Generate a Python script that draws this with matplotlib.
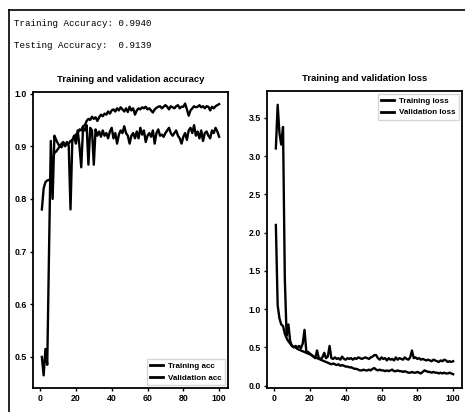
import matplotlib
matplotlib.use("Agg")
import matplotlib.pyplot as plt
from matplotlib.lines import Line2D

epochs = list(range(1, 101))

train_acc = [0.780, 0.820, 0.832, 0.835, 0.836, 0.838, 0.870, 0.888, 0.890, 0.895,
             0.900, 0.898, 0.905, 0.902, 0.908, 0.905, 0.910, 0.912, 0.918, 0.922,
             0.925, 0.932, 0.930, 0.938, 0.940, 0.948, 0.952, 0.950, 0.956, 0.952,
             0.955, 0.948, 0.955, 0.960, 0.957, 0.962, 0.960, 0.966, 0.962, 0.968,
             0.970, 0.966, 0.972, 0.968, 0.974, 0.970, 0.966, 0.972, 0.965, 0.975,
             0.968, 0.972, 0.960, 0.968, 0.972, 0.970, 0.974, 0.972, 0.975, 0.970,
             0.972, 0.968, 0.964, 0.970, 0.973, 0.975, 0.976, 0.972, 0.975, 0.978,
             0.975, 0.970, 0.976, 0.974, 0.972, 0.976, 0.978, 0.972, 0.975, 0.975,
             0.981, 0.970, 0.958, 0.968, 0.972, 0.976, 0.974, 0.975, 0.978, 0.974,
             0.976, 0.972, 0.976, 0.975, 0.968, 0.975, 0.972, 0.976, 0.978, 0.980]

val_acc = [0.500, 0.465, 0.515, 0.485, 0.700, 0.910, 0.800, 0.920, 0.912, 0.905,
           0.900, 0.905, 0.908, 0.900, 0.905, 0.902, 0.780, 0.910, 0.920, 0.905,
           0.930, 0.900, 0.860, 0.935, 0.930, 0.940, 0.865, 0.935, 0.930, 0.865,
           0.932, 0.920, 0.928, 0.918, 0.930, 0.920, 0.925, 0.915, 0.928, 0.935,
           0.915, 0.925, 0.905, 0.922, 0.930, 0.925, 0.938, 0.925, 0.920, 0.905,
           0.920, 0.925, 0.915, 0.928, 0.915, 0.935, 0.922, 0.930, 0.908, 0.920,
           0.925, 0.918, 0.930, 0.905, 0.925, 0.932, 0.920, 0.922, 0.918, 0.925,
           0.930, 0.935, 0.925, 0.920, 0.925, 0.930, 0.920, 0.915, 0.905, 0.918,
           0.925, 0.912, 0.930, 0.935, 0.925, 0.940, 0.920, 0.928, 0.915, 0.930,
           0.910, 0.925, 0.928, 0.920, 0.915, 0.930, 0.925, 0.935, 0.928, 0.918]

train_loss = [2.10, 1.05, 0.88, 0.80, 0.78, 0.68, 0.62, 0.58, 0.55, 0.52,
              0.51, 0.50, 0.48, 0.47, 0.46, 0.45, 0.44, 0.43, 0.42, 0.41,
              0.40, 0.38, 0.37, 0.36, 0.35, 0.34, 0.33, 0.32, 0.31, 0.30,
              0.29, 0.28, 0.29, 0.28, 0.27, 0.28, 0.26, 0.27, 0.26, 0.25,
              0.25, 0.24, 0.24, 0.23, 0.22, 0.22, 0.21, 0.20, 0.20, 0.21,
              0.20, 0.20, 0.21, 0.20, 0.22, 0.23, 0.21, 0.20, 0.21, 0.20,
              0.20, 0.19, 0.20, 0.19, 0.20, 0.21, 0.19, 0.19, 0.20, 0.19,
              0.19, 0.18, 0.19, 0.18, 0.17, 0.17, 0.18, 0.17, 0.17, 0.18,
              0.17, 0.16, 0.18, 0.20, 0.19, 0.18, 0.18, 0.17, 0.18, 0.17,
              0.17, 0.16, 0.17, 0.16, 0.17, 0.16, 0.16, 0.17, 0.16, 0.15]

val_loss = [3.10, 3.67, 3.30, 3.15, 3.38, 1.40, 0.65, 0.80, 0.58, 0.52,
            0.50, 0.52, 0.50, 0.52, 0.49, 0.55, 0.73, 0.45, 0.44, 0.42,
            0.40, 0.38, 0.36, 0.46, 0.36, 0.35, 0.37, 0.43, 0.36, 0.38,
            0.52, 0.36, 0.35, 0.37, 0.35, 0.36, 0.34, 0.38, 0.35, 0.34,
            0.36, 0.35, 0.36, 0.34, 0.36, 0.35, 0.37, 0.36, 0.35, 0.36,
            0.37, 0.36, 0.35, 0.37, 0.38, 0.40, 0.40, 0.36, 0.34, 0.37,
            0.35, 0.36, 0.33, 0.36, 0.34, 0.35, 0.33, 0.37, 0.34, 0.36,
            0.35, 0.34, 0.37, 0.35, 0.34, 0.37, 0.46, 0.36, 0.37, 0.35,
            0.36, 0.34, 0.35, 0.34, 0.33, 0.34, 0.33, 0.32, 0.34, 0.33,
            0.32, 0.31, 0.33, 0.32, 0.34, 0.33, 0.31, 0.32, 0.31, 0.32]

summary_lines = ["Training Accuracy: 0.9940", "Testing Accuracy:  0.9139"]
acc_title = "Training and validation accuracy"
loss_title = "Training and validation loss"
acc_labels = ["Training acc", "Validation acc"]
loss_labels = ["Training loss", "Validation loss"]
acc_yticks = [0.5, 0.6, 0.7, 0.8, 0.9, 1.0]
loss_yticks = [0.0, 0.5, 1.0, 1.5, 2.0, 2.5, 3.0, 3.5]
xticks = [0, 20, 40, 60, 80, 100]

plt.rcParams["font.family"] = ["Liberation Sans", "DejaVu Sans"]

fig = plt.figure(figsize=(4.65, 4.12), dpi=100)

# outer frame lines (top and left)
fig.add_artist(Line2D([9/465, 1.0], [1 - 10/412, 1 - 10/412], color="black", lw=1.2,
                      transform=fig.transFigure))
fig.add_artist(Line2D([9/465, 9/465], [0.0, 1 - 10/412], color="black", lw=1.2,
                      transform=fig.transFigure))

mono = ["Liberation Mono", "DejaVu Sans Mono"]
fig.text(14/465, 1 - 24/412, summary_lines[0], family=mono,
         fontsize=6.6, va="center", ha="left")
fig.text(14/465, 1 - 45/412, summary_lines[1], family=mono,
         fontsize=6.6, va="center", ha="left")

ax1 = fig.add_axes([33/465, 1 - 388/412, (228 - 33)/465, (388 - 92)/412])
ax2 = fig.add_axes([267/465, 1 - 388/412, (462 - 267)/465, (388 - 91)/412])

lw = 1.7
ax1.plot(epochs, train_acc, color="black", lw=lw, label=acc_labels[0])
ax1.plot(epochs, val_acc, color="black", lw=lw, label=acc_labels[1])
ax2.plot(epochs, train_loss, color="black", lw=lw, label=loss_labels[0])
ax2.plot(epochs, val_loss, color="black", lw=lw, label=loss_labels[1])

ax1.set_yticks(acc_yticks)
ax2.set_yticks(loss_yticks)
ax1.set_ylim(0.441, 1.003)
ax2.set_ylim(-0.03, 3.85)

for ax, title in ((ax1, acc_title), (ax2, loss_title)):
    ax.set_xticks(xticks)
    ax.set_title(title, fontsize=6.8, fontweight="bold", pad=7)
    ax.tick_params(labelsize=6.3, length=2.5, width=1, pad=2)
    for lab in ax.get_xticklabels() + ax.get_yticklabels():
        lab.set_fontweight("bold")
    for s in ax.spines.values():
        s.set_linewidth(1.3)

leg_kw = dict(fontsize=5.8, frameon=True, handlelength=1.6, borderpad=0.45,
              labelspacing=0.45, handletextpad=0.6, fancybox=False, borderaxespad=0.35)
l1 = ax1.legend(loc="lower right", **leg_kw)
l2 = ax2.legend(loc="upper right", **leg_kw)
for lg in (l1, l2):
    for t in lg.get_texts():
        t.set_fontweight("bold")
    for h in lg.get_lines():
        h.set_linewidth(2.0)

fig.savefig("out.png", dpi=100)
